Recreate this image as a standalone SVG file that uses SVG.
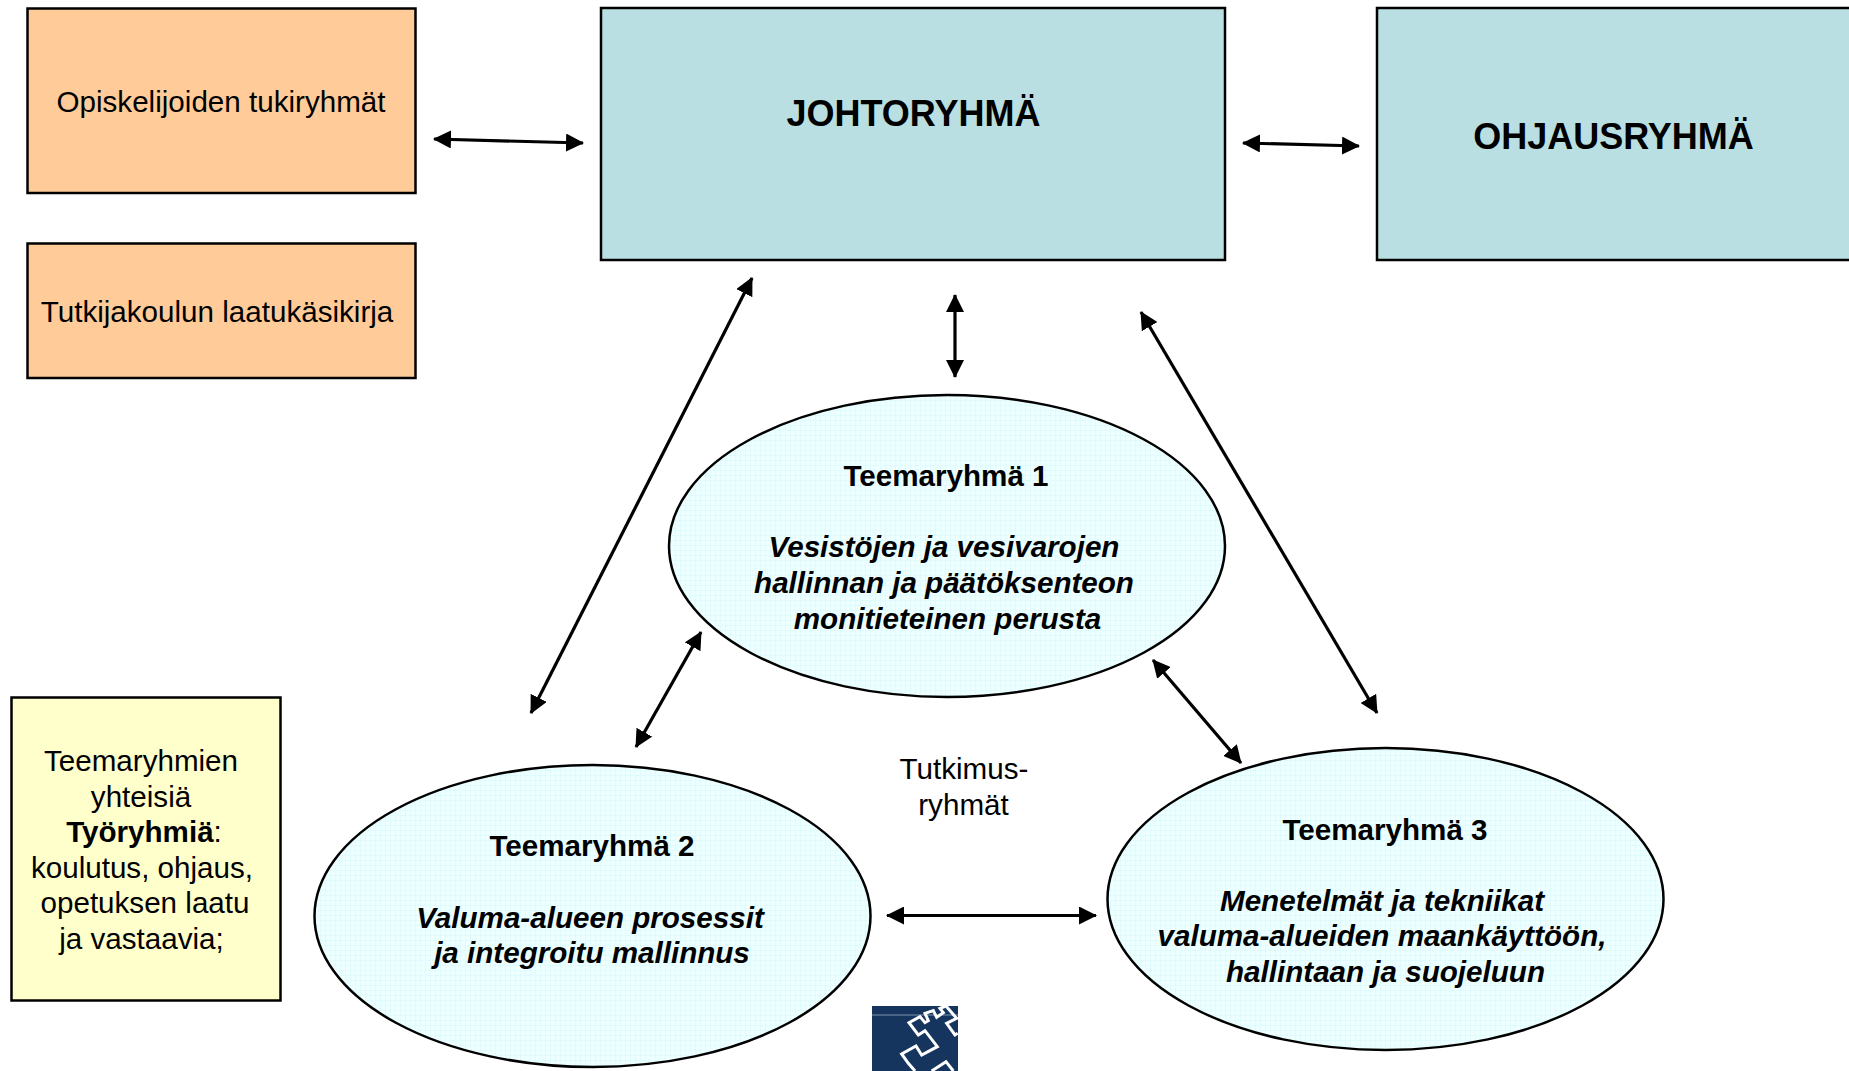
<svg xmlns="http://www.w3.org/2000/svg" width="1849" height="1071" viewBox="0 0 1849 1071">
<style>
text{font-family:"Liberation Sans",Arial,sans-serif;font-size:29.6px;fill:#000;text-anchor:middle}
.b{font-weight:bold}.bi{font-weight:bold;font-style:italic}.t{font-weight:bold;font-size:36px}
.box{stroke:#000;stroke-width:2.5}
.o{fill:#ffcc99}.c{fill:#b9dfe3}.y{fill:#ffffcc}.e{fill:url(#grid);stroke:#000;stroke-width:2.5}
.a{stroke:#000;stroke-width:3.2;fill:none;marker-start:url(#h);marker-end:url(#h)}
</style>
<defs>
<marker id="h" viewBox="0 0 18 18" refX="17" refY="9" markerWidth="18" markerHeight="18" markerUnits="userSpaceOnUse" orient="auto-start-reverse"><path d="M0 0L18 9L0 18Z" fill="#000"/></marker>
<pattern id="grid" width="5" height="5" patternUnits="userSpaceOnUse"><rect width="5" height="5" fill="#eeffff"/><path d="M0 .5H5M.5 0V5" stroke="#e0fbfd" stroke-width="1"/></pattern>
</defs>
<rect width="1849" height="1071" fill="#fff"/>
<g id="connectors">
<path class="a" d="M434 139L583 143"/>
<path class="a" d="M1243 143L1359 146"/>
<path class="a" d="M955 295V377"/>
<path class="a" d="M752 278L531 713"/>
<path class="a" d="M1141 312L1377 713"/>
<path class="a" d="M701 632L636 747"/>
<path class="a" d="M1153 660L1241 763"/>
<path class="a" d="M887 915.500H1096"/>
</g>
<g id="tukiryhmat"><rect class="box o" x="27.500" y="8.500" width="388" height="184.500"/><text x="221" y="112">Opiskelijoiden tukiryhmät</text></g>
<g id="laatukasikirja"><rect class="box o" x="27.500" y="243.500" width="388" height="134.500"/><text x="217" y="322">Tutkijakoulun laatukäsikirja</text></g>
<g id="johtoryhma"><rect class="box c" x="601" y="8" width="624" height="252"/><text class="t" x="913.500" y="126">JOHTORYHMÄ</text></g>
<g id="ohjausryhma"><rect class="box c" x="1377" y="8" width="474" height="252"/><text class="t" x="1613.500" y="148.500">OHJAUSRYHMÄ</text></g>
<g id="tyoryhmia"><rect class="box y" x="11.500" y="697.500" width="269" height="303"/>
<text x="141" y="771">Teemaryhmien</text><text x="141" y="807">yhteisiä</text><text x="144" y="842"><tspan class="b">Työryhmiä</tspan>:</text><text x="142" y="878">koulutus, ohjaus,</text><text x="145" y="913">opetuksen laatu</text><text x="141.500" y="949">ja vastaavia;</text></g>
<g id="teema1"><ellipse class="e" cx="947" cy="546" rx="278" ry="151"/><text class="b" x="946" y="486">Teemaryhmä 1</text><text class="bi" x="944" y="557">Vesistöjen ja vesivarojen</text><text class="bi" x="944" y="593">hallinnan ja päätöksenteon</text><text class="bi" x="947.500" y="629">monitieteinen perusta</text></g>
<g id="teema2"><ellipse class="e" cx="592.500" cy="916" rx="278" ry="151"/><text class="b" x="592" y="856">Teemaryhmä 2</text><text class="bi" x="590" y="928">Valuma-alueen prosessit</text><text class="bi" x="592" y="963">ja integroitu mallinnus</text></g>
<g id="teema3"><ellipse class="e" cx="1385.500" cy="899" rx="278" ry="151"/><text class="b" x="1385" y="840">Teemaryhmä 3</text><text class="bi" x="1382" y="911">Menetelmät ja tekniikat</text><text class="bi" x="1382" y="946">valuma-alueiden maankäyttöön,</text><text class="bi" x="1385.500" y="982">hallintaan ja suojeluun</text></g>
<g id="tutkimusryhmat"><text x="964" y="779">Tutkimus-</text><text x="963.500" y="815">ryhmät</text></g>
<g id="logo"><rect x="872" y="1006" width="86" height="65" fill="#15355f"/><path d="M872 1015H958" stroke="#7f93ad" stroke-width="1"/>
<g transform="translate(840 980) scale(.3333)" fill="none" stroke="#fff" stroke-width="9">
<path d="M318 78L300 85L310 98L290 112L280 92L255 100L265 122L255 128L240 110L207 128L235 165L255 152L292 200L245 225L228 198L185 222L205 250L225 273"/>
<path d="M318 78L350 115L320 130L345 165L353 160"/>
<path d="M275 273L318 245L340 273"/>
</g></g>
</svg>
